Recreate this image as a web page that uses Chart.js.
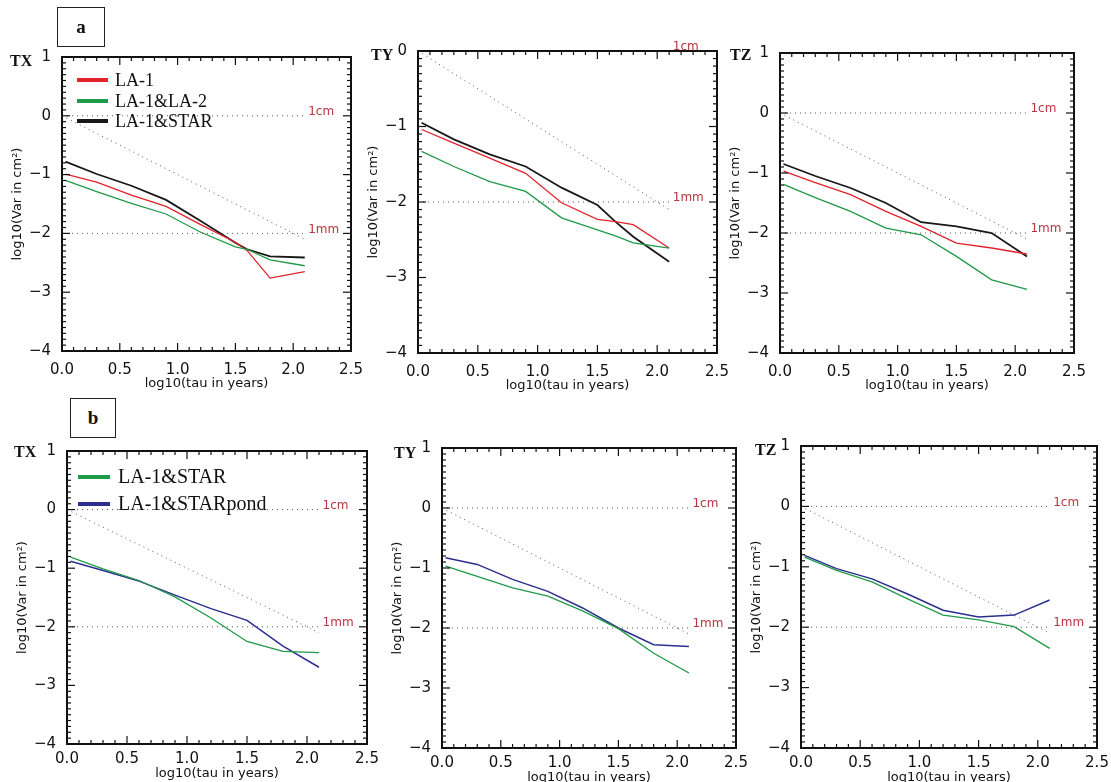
<!DOCTYPE html>
<html>
<head>
<meta charset="utf-8">
<script src="https://cdn.jsdelivr.net/npm/chart.js@4.4.0/dist/chart.umd.min.js"></script>
<style>
  html,body{margin:0;padding:0;background:#fff;}
  body{width:1111px;height:782px;position:relative;overflow:hidden;}
  .pl{position:absolute;font-family:"Liberation Serif",serif;font-weight:bold;font-size:16px;line-height:16px;color:#111;}
  .box{position:absolute;border:1.5px solid #222;box-sizing:border-box;font-family:"Liberation Serif",serif;font-weight:bold;font-size:19px;display:flex;align-items:center;justify-content:center;color:#111;}
  .lg{position:absolute;font-family:"Liberation Serif",serif;color:#111;white-space:nowrap;}
</style>
</head>
<body>
<script>
// ---------------- DATA ----------------
const tauLog8 = [0.03, 0.3, 0.6, 0.9, 1.2, 1.5, 1.8, 2.1];
const tauLogATX = [0.03, 0.3, 0.6, 0.9, 1.2, 1.5, 1.6, 1.8, 2.1];
const tauLogATY = [0.03, 0.3, 0.6, 0.9, 1.2, 1.5, 1.65, 1.8, 2.1];

// Panel a
const aTX_LA1      = [-0.99, -1.13, -1.35, -1.54, -1.85, -2.15, -2.29, -2.76, -2.65];
const aTX_LA1LA2   = [-1.10, -1.29, -1.49, -1.67, -1.98, -2.23, -2.27, -2.45, -2.55];
const aTX_LA1STAR  = [-0.78, -0.99, -1.19, -1.43, -1.79, -2.16, -2.27, -2.39, -2.41];

const aTY_LA1      = [-1.04, -1.22, -1.42, -1.62, -2.01, -2.23, -2.26, -2.30, -2.61];
const aTY_LA1LA2   = [-1.33, -1.53, -1.73, -1.86, -2.21, -2.37, -2.45, -2.54, -2.61];
const aTY_LA1STAR  = [-0.95, -1.17, -1.37, -1.53, -1.81, -2.04, -2.26, -2.46, -2.79];

const aTZ_LA1      = [-0.97, -1.16, -1.36, -1.64, -1.89, -2.17, -2.25, -2.35];
const aTZ_LA1LA2   = [-1.19, -1.41, -1.64, -1.92, -2.03, -2.39, -2.78, -2.94];
const aTZ_LA1STAR  = [-0.85, -1.05, -1.25, -1.50, -1.82, -1.89, -2.00, -2.39];

// Panel b
const bTX_STAR     = [-0.81, -1.01, -1.21, -1.49, -1.85, -2.25, -2.42, -2.44];
const bTX_STARpond = [-0.88, -1.04, -1.22, -1.46, -1.69, -1.89, -2.33, -2.69];
const bTY_STAR     = [-0.97, -1.14, -1.33, -1.47, -1.72, -2.01, -2.42, -2.75];
const bTY_STARpond = [-0.83, -0.94, -1.19, -1.39, -1.67, -2.00, -2.28, -2.31];
const bTZ_STAR     = [-0.84, -1.06, -1.25, -1.53, -1.80, -1.88, -1.99, -2.35];
const bTZ_STARpond = [-0.81, -1.03, -1.20, -1.45, -1.72, -1.83, -1.80, -1.55];

// Reference lines (1 cm, 1 mm, slope -1)
const refX = [0, 2.1];
const ref1cm = [0, 0];
const ref1mm = [-2, -2];
const refSlope = [0, -2.1];

const xTicks = [0.0, 0.5, 1.0, 1.5, 2.0, 2.5];
const xTitle = 'log10(tau in years)';
const yTitle = 'log10(Var in cm²)';

// ---------------- STYLE ----------------
const RED = '#e3222c', GREEN = '#1f9a48', BLACK = '#181818', BLUE = '#2b2f8f', DOTS = '#555', LABRED = '#b8343f';

function pts(xs, ys){ return xs.map((x,i)=>({x:x, y:ys[i]})); }

const frameTicks = {
  id:'frameTicks',
  afterDraw(chart){
    const {ctx, chartArea:a, scales:{x,y}} = chart;
    ctx.save();
    ctx.strokeStyle = '#111';
    ctx.lineWidth = 1.2;
    const ln = (x1,y1,x2,y2)=>{ctx.beginPath();ctx.moveTo(x1,y1);ctx.lineTo(x2,y2);ctx.stroke();};
    for(let i=0;i<=25;i++){
      const px = x.getPixelForValue(i/10);
      const len = i%5===0 ? 8 : 4;
      ln(px,a.bottom,px,a.bottom-len); ln(px,a.top,px,a.top+len);
    }
    const n = Math.round((y.max-y.min)*10);
    for(let i=0;i<=n;i++){
      const v = y.min + i/10;
      const py = y.getPixelForValue(v);
      const len = i%10===0 ? 8 : 4;
      ln(a.left,py,a.left+len,py); ln(a.right,py,a.right-len,py);
    }
    ctx.lineWidth = 2;
    ctx.strokeRect(a.left,a.top,a.right-a.left,a.bottom-a.top);
    // reference labels
    ctx.fillStyle = LABRED;
    ctx.font = '12px "DejaVu Sans"';
    ctx.textBaseline = 'middle';
    ctx.textAlign = 'left';
    const lx = x.getPixelForValue(2.13);
    ctx.fillText('1cm', lx, y.getPixelForValue(0)-4);
    ctx.fillText('1mm', lx, y.getPixelForValue(-2)-4);
    ctx.restore();
  }
};

function makePanel(opt){
  const {L,T,R,B,ymin,ymax,series,labPad,titlePad} = opt;
  const padL = 55, padT = 12, padR = 16, padB = 40;
  const w = R-L+padL+padR, h = B-T+padT+padB;
  const wrap = document.createElement('div');
  wrap.style.cssText = 'position:absolute;left:'+(L-padL)+'px;top:'+(T-padT)+'px;width:'+w+'px;height:'+h+'px;';
  const cv = document.createElement('canvas');
  cv.width = w; cv.height = h;
  cv.style.width = w+'px'; cv.style.height = h+'px';
  wrap.appendChild(cv);
  document.body.appendChild(wrap);

  const refStyle = {borderColor:DOTS, borderWidth:1, borderDash:[1,4], pointRadius:0, fill:false};
  const datasets = [
    Object.assign({label:'1cm', data:pts(refX, ref1cm)}, refStyle),
    Object.assign({label:'1mm', data:pts(refX, ref1mm)}, refStyle),
    Object.assign({label:'slope', data:pts(refX, refSlope)}, refStyle),
  ];
  series.forEach(s=>datasets.push({label:s.label, data:pts(s.x, s.y), borderColor:s.color, borderWidth:s.w||1.3, pointRadius:0, fill:false, tension:0}));

  new Chart(cv, {
    type:'line',
    data:{datasets},
    options:{
      responsive:false, animation:false, devicePixelRatio:1,
      layout:{padding:{left:0, top:padT, right:padR, bottom:0}},
      plugins:{legend:{display:false}, tooltip:{enabled:false}},
      scales:{
        x:{type:'linear', min:0, max:2.5,
           afterBuildTicks(sc){ sc.ticks = xTicks.map(v=>({value:v})); },
           afterFit(sc){ sc.height = padB; sc.paddingLeft = 0; sc.paddingRight = 0; },
           grid:{display:false, drawTicks:false}, border:{display:false},
           ticks:{padding:labPad, maxRotation:0, autoSkip:false, color:'#111', font:{family:'DejaVu Sans', size:15}, callback:v=>Number(v).toFixed(1)},
           title:{display:true, text:xTitle, color:'#111', font:{family:'DejaVu Sans', size:13}, padding:{top:0,bottom:titlePad}}
        },
        y:{type:'linear', min:ymin, max:ymax,
           afterBuildTicks(sc){ const t=[]; for(let v=ymin; v<=ymax; v++) t.push({value:v}); sc.ticks=t; },
           afterFit(sc){ sc.width = padL; sc.paddingTop = 0; sc.paddingBottom = 0; },
           grid:{display:false, drawTicks:false}, border:{display:false},
           ticks:{padding:11, color:'#111', font:{family:'DejaVu Sans', size:15}, callback:v=> (v<0 ? '\u2212'+Math.abs(v) : String(v))},
           title:{display:true, text:yTitle, color:'#111', font:{family:'DejaVu Sans', size:13}, padding:{top:3,bottom:0}}
        }
      }
    },
    plugins:[frameTicks]
  });
}

// Panel a
makePanel({L:62,T:57,R:351,B:351,ymin:-4,ymax:1,labPad:10,titlePad:0,series:[
  {label:'LA-1&LA-2', x:tauLogATX, y:aTX_LA1LA2, color:GREEN},
  {label:'LA-1', x:tauLogATX, y:aTX_LA1, color:RED},
  {label:'LA-1&STAR', x:tauLogATX, y:aTX_LA1STAR, color:BLACK, w:1.8},
]});
makePanel({L:418,T:51,R:717,B:353,ymin:-4,ymax:0,labPad:10,titlePad:0,series:[
  {label:'LA-1&LA-2', x:tauLogATY, y:aTY_LA1LA2, color:GREEN},
  {label:'LA-1', x:tauLogATY, y:aTY_LA1, color:RED},
  {label:'LA-1&STAR', x:tauLogATY, y:aTY_LA1STAR, color:BLACK, w:1.8},
]});
makePanel({L:780,T:53,R:1074,B:353,ymin:-4,ymax:1,labPad:10,titlePad:0,series:[
  {label:'LA-1&LA-2', x:tauLog8, y:aTZ_LA1LA2, color:GREEN},
  {label:'LA-1', x:tauLog8, y:aTZ_LA1, color:RED},
  {label:'LA-1&STAR', x:tauLog8, y:aTZ_LA1STAR, color:BLACK, w:1.8},
]});
// Panel b
makePanel({L:67,T:451,R:367,B:744,ymin:-4,ymax:1,labPad:6,titlePad:3,series:[
  {label:'LA-1&STAR', x:tauLog8, y:bTX_STAR, color:GREEN},
  {label:'LA-1&STARpond', x:tauLog8, y:bTX_STARpond, color:BLUE, w:1.5},
]});
makePanel({L:442,T:448,R:736,B:748,ymin:-4,ymax:1,labPad:6,titlePad:3,series:[
  {label:'LA-1&STAR', x:tauLog8, y:bTY_STAR, color:GREEN},
  {label:'LA-1&STARpond', x:tauLog8, y:bTY_STARpond, color:BLUE, w:1.5},
]});
makePanel({L:801,T:446,R:1097,B:748,ymin:-4,ymax:1,labPad:6,titlePad:3,series:[
  {label:'LA-1&STAR', x:tauLog8, y:bTZ_STAR, color:GREEN},
  {label:'LA-1&STARpond', x:tauLog8, y:bTZ_STARpond, color:BLUE, w:1.5},
]});

// ---------------- Text overlays ----------------
function div(cls, css, html){ const d=document.createElement('div'); d.className=cls; d.style.cssText=css; d.innerHTML=html; document.body.appendChild(d); return d; }
div('box','left:57px;top:7px;width:48px;height:40px;','a');
div('box','left:70px;top:398px;width:46px;height:40px;','b');
div('pl','left:10px;top:53px;','TX');
div('pl','left:371px;top:47px;','TY');
div('pl','left:730px;top:47px;','TZ');
div('pl','left:14px;top:444px;','TX');
div('pl','left:394px;top:445px;','TY');
div('pl','left:755px;top:442px;','TZ');

const legendA = [['LA-1',RED],['LA-1&LA-2',GREEN],['LA-1&STAR',BLACK]];
const legendB = [['LA-1&STAR',GREEN],['LA-1&STARpond',BLUE]];
legendA.forEach((e,i)=>{
  const y = 80 + i*20.5;
  div('lg','left:77px;top:'+(y-2)+'px;width:31px;height:4px;background:'+e[1]+';','');
  div('lg','left:115px;top:'+(y-11)+'px;font-size:18px;line-height:22px;',e[0].replace('&','&amp;'));
});
legendB.forEach((e,i)=>{
  const y = 477 + i*27;
  div('lg','left:78px;top:'+(y-2)+'px;width:32px;height:4px;background:'+e[1]+';','');
  div('lg','left:118px;top:'+(y-13)+'px;font-size:20px;line-height:24px;',e[0].replace('&','&amp;'));
});
</script>
</body>
</html>
